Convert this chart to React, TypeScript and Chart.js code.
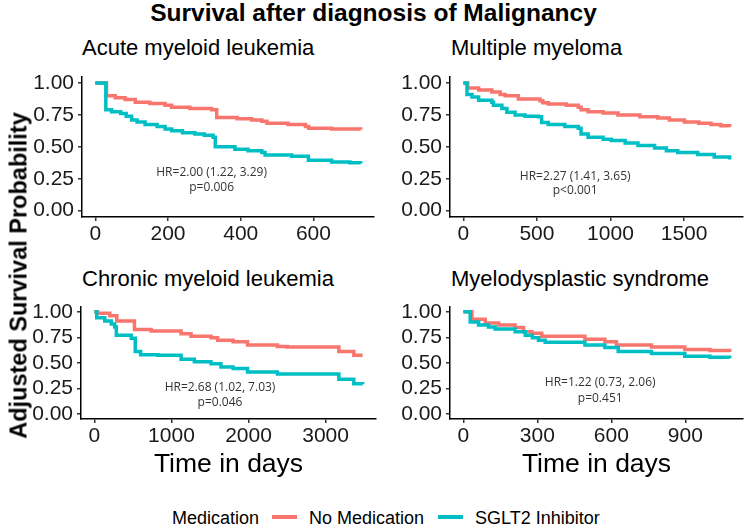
import React, { useEffect, useRef } from "react";
import { Chart, registerables } from "chart.js";

Chart.register(...registerables);

const NO_MED_COLOR = "#F8766D";
const SGLT2_COLOR = "#00BFC4";
const SANS = "'Liberation Sans', Arial, Helvetica, sans-serif";

// ---- Acute myeloid leukemia ----
const amlNoMedDays = [0, 31, 55, 82, 110, 150, 192, 210, 260, 320, 334, 390, 430, 458, 472, 530, 578, 587, 650, 730];
const amlNoMedSurv = [1.0, 0.9, 0.885, 0.87, 0.85, 0.84, 0.825, 0.81, 0.8, 0.79, 0.73, 0.72, 0.71, 0.7, 0.685, 0.675, 0.66, 0.645, 0.64, 0.635];
const amlSgltDays = [0, 29, 45, 70, 85, 100, 115, 137, 170, 192, 210, 240, 274, 300, 324, 330, 384, 420, 458, 467, 540, 586, 650, 700, 730];
const amlSgltSurv = [1.0, 0.79, 0.775, 0.76, 0.74, 0.71, 0.695, 0.675, 0.66, 0.64, 0.625, 0.61, 0.6, 0.59, 0.575, 0.5, 0.48, 0.47, 0.455, 0.435, 0.425, 0.395, 0.38, 0.375, 0.37];
const amlTicks = [0, 200, 400, 600];
const amlNote = ["HR=2.00 (1.22, 3.29)", "p=0.006"];

// ---- Multiple myeloma ----
const mmNoMedDays = [0, 30, 104, 194, 250, 284, 374, 521, 540, 577, 700, 781, 800, 848, 950, 1051, 1200, 1322, 1400, 1502, 1600, 1683, 1750, 1810];
const mmNoMedSurv = [1.0, 0.96, 0.945, 0.93, 0.91, 0.9, 0.875, 0.86, 0.845, 0.835, 0.825, 0.81, 0.79, 0.775, 0.765, 0.75, 0.735, 0.725, 0.71, 0.695, 0.685, 0.675, 0.665, 0.655];
const mmSgltDays = [0, 25, 59, 104, 194, 205, 262, 296, 352, 420, 510, 532, 577, 690, 781, 800, 848, 950, 1006, 1100, 1187, 1300, 1380, 1457, 1593, 1705, 1810];
const mmSgltSurv = [1.0, 0.91, 0.89, 0.865, 0.85, 0.825, 0.8, 0.77, 0.75, 0.74, 0.735, 0.69, 0.675, 0.66, 0.645, 0.6, 0.575, 0.56, 0.55, 0.53, 0.51, 0.49, 0.47, 0.455, 0.44, 0.42, 0.4];
const mmTicks = [0, 500, 1000, 1500];
const mmNote = ["HR=2.27 (1.41, 3.65)", "p<0.001"];

// ---- Chronic myeloid leukemia ----
const cmlNoMedDays = [0, 40, 200, 290, 520, 737, 1125, 1254, 1513, 1599, 1800, 1987, 2375, 2500, 3172, 3366, 3480];
const cmlNoMedSurv = [1.0, 0.985, 0.96, 0.91, 0.825, 0.81, 0.785, 0.76, 0.745, 0.72, 0.705, 0.675, 0.66, 0.655, 0.61, 0.575, 0.575];
const cmlSgltDays = [0, 30, 134, 220, 263, 284, 478, 530, 600, 823, 1125, 1297, 1513, 1642, 1800, 1987, 2375, 3172, 3366, 3480];
const cmlSgltSurv = [1.0, 0.94, 0.91, 0.88, 0.85, 0.77, 0.74, 0.61, 0.58, 0.575, 0.535, 0.51, 0.49, 0.46, 0.445, 0.41, 0.39, 0.34, 0.295, 0.29];
const cmlTicks = [0, 1000, 2000, 3000];
const cmlNote = ["HR=2.68 (1.02, 7.03)", "p=0.046"];

// ---- Myelodysplastic syndrome ----
const mdsNoMedDays = [0, 35, 89, 143, 210, 244, 278, 318, 493, 574, 621, 763, 898, 1000, 1080];
const mdsNoMedSurv = [1.0, 0.925, 0.89, 0.87, 0.845, 0.805, 0.79, 0.76, 0.73, 0.705, 0.675, 0.655, 0.63, 0.62, 0.605];
const mdsSgltDays = [0, 28, 62, 102, 129, 210, 251, 280, 305, 332, 493, 574, 628, 763, 898, 1000, 1080];
const mdsSgltSurv = [1.0, 0.9, 0.87, 0.85, 0.83, 0.805, 0.77, 0.745, 0.72, 0.7, 0.675, 0.65, 0.61, 0.59, 0.565, 0.555, 0.545];
const mdsTicks = [0, 300, 600, 900];
const mdsNote = ["HR=1.22 (0.73, 2.06)", "p=0.451"];

const survTicks = [0, 0.25, 0.5, 0.75, 1.0];

type PanelSpec = {
  left: number;
  top: number;
  width: number;
  height: number;
  padTop: number;
  padRight: number;
  yAxisWidth: number;
  xAxisHeight: number;
  noMedDays: number[];
  noMedSurv: number[];
  sgltDays: number[];
  sgltSurv: number[];
  xTicks: number[];
  note: string[];
  noteX: number;
  noteY: number[];
};

const toPoints = (days: number[], surv: number[]) => days.map((d, i) => ({ x: d, y: surv[i] }));

const axisLine = {
  grid: { display: true, drawOnChartArea: false, drawTicks: true, tickLength: 4, color: "#333333", lineWidth: 1.5 },
  border: { display: true, color: "#000000", width: 1.5 },
};

function SurvivalPanel({ spec }: { spec: PanelSpec }) {
  const ref = useRef<HTMLCanvasElement>(null);

  useEffect(() => {
    const lastDay = Math.max(spec.noMedDays[spec.noMedDays.length - 1], spec.sgltDays[spec.sgltDays.length - 1]);

    const notePlugin = {
      id: "hrNote",
      afterDatasetsDraw(chart: any) {
        const { ctx, scales } = chart;
        ctx.save();
        ctx.font = "12px 'Open Sans', 'Noto Sans', sans-serif";
        ctx.fillStyle = "#333333";
        ctx.textAlign = "center";
        ctx.textBaseline = "middle";
        spec.note.forEach((line, i) => {
          ctx.fillText(line, scales.x.getPixelForValue(spec.noteX), scales.y.getPixelForValue(spec.noteY[i]));
        });
        ctx.restore();
      },
    };

    const chart = new Chart(ref.current as HTMLCanvasElement, {
      type: "line",
      data: {
        datasets: [
          {
            label: "SGLT2 Inhibitor",
            data: toPoints(spec.sgltDays, spec.sgltSurv),
            borderColor: SGLT2_COLOR,
            backgroundColor: SGLT2_COLOR,
            borderWidth: 3.5,
            stepped: "before",
            pointRadius: 0,
            fill: false,
            order: 0,
          },
          {
            label: "No Medication",
            data: toPoints(spec.noMedDays, spec.noMedSurv),
            borderColor: NO_MED_COLOR,
            backgroundColor: NO_MED_COLOR,
            borderWidth: 3.5,
            stepped: "before",
            pointRadius: 0,
            fill: false,
            order: 1,
          },
        ],
      },
      options: {
        animation: false,
        responsive: false,
        devicePixelRatio: 1,
        layout: { padding: { top: spec.padTop, right: spec.padRight, left: 0, bottom: 0 } },
        plugins: { legend: { display: false }, tooltip: { enabled: false }, title: { display: false } },
        scales: {
          x: {
            type: "linear",
            min: -0.05 * lastDay,
            max: 1.05 * lastDay,
            afterBuildTicks: (s: any) => {
              s.ticks = spec.xTicks.map((v) => ({ value: v }));
            },
            afterFit: (s: any) => {
              s.height = spec.xAxisHeight;
            },
            ticks: {
              autoSkip: false,
              maxRotation: 0,
              padding: 1,
              color: "#1a1a1a",
              font: { family: SANS, size: 21 },
              callback: (v: any) => String(v),
            },
            ...axisLine,
          },
          y: {
            type: "linear",
            min: -0.05,
            max: 1.05,
            afterBuildTicks: (s: any) => {
              s.ticks = survTicks.map((v) => ({ value: v }));
            },
            afterFit: (s: any) => {
              s.width = spec.yAxisWidth;
            },
            ticks: {
              autoSkip: false,
              padding: 4,
              color: "#1a1a1a",
              font: { family: SANS, size: 21 },
              callback: (v: any) => Number(v).toFixed(2),
            },
            ...axisLine,
          },
        },
      } as any,
      plugins: [notePlugin],
    });
    return () => chart.destroy();
  }, [spec]);

  return (
    <canvas
      ref={ref}
      width={spec.width}
      height={spec.height}
      style={{ position: "absolute", left: spec.left, top: spec.top, width: spec.width, height: spec.height }}
    />
  );
}

const panels: PanelSpec[] = [
  {
    left: 0, top: 60, width: 380, height: 190, padTop: 10, padRight: 6, yAxisWidth: 82, xAxisHeight: 33,
    noMedDays: amlNoMedDays, noMedSurv: amlNoMedSurv, sgltDays: amlSgltDays, sgltSurv: amlSgltSurv,
    xTicks: amlTicks, note: amlNote, noteX: 320, noteY: [0.3, 0.18],
  },
  {
    left: 380, top: 60, width: 367, height: 190, padTop: 10, padRight: 4, yAxisWidth: 70, xAxisHeight: 33,
    noMedDays: mmNoMedDays, noMedSurv: mmNoMedSurv, sgltDays: mmSgltDays, sgltSurv: mmSgltSurv,
    xTicks: mmTicks, note: mmNote, noteX: 760, noteY: [0.265, 0.16],
  },
  {
    left: 0, top: 290, width: 380, height: 160, padTop: 11, padRight: 4, yAxisWidth: 81, xAxisHeight: 31,
    noMedDays: cmlNoMedDays, noMedSurv: cmlNoMedSurv, sgltDays: cmlSgltDays, sgltSurv: cmlSgltSurv,
    xTicks: cmlTicks, note: cmlNote, noteX: 1630, noteY: [0.256, 0.106],
  },
  {
    left: 380, top: 290, width: 367, height: 160, padTop: 11, padRight: 4, yAxisWidth: 70, xAxisHeight: 31,
    noMedDays: mdsNoMedDays, noMedSurv: mdsNoMedSurv, sgltDays: mdsSgltDays, sgltSurv: mdsSgltSurv,
    xTicks: mdsTicks, note: mdsNote, noteX: 555, noteY: [0.31, 0.153],
  },
];

type TextProps = {
  x: number;
  y: number;
  size: number;
  bold?: boolean;
  align?: "left" | "center";
  rotate?: boolean;
  children: React.ReactNode;
};

// Text placed by its visual centre line (y); x is either the left edge or the centre.
function Text({ x, y, size, bold, align = "left", rotate, children }: TextProps) {
  const h = Math.round(size * 1.4);
  const w = 600;
  const style: React.CSSProperties = {
    position: "absolute",
    top: y - h / 2,
    height: h,
    lineHeight: `${h}px`,
    fontSize: size,
    fontWeight: bold ? 700 : 400,
    fontFamily: SANS,
    color: "#000",
    whiteSpace: "nowrap",
  };
  if (align === "center" || rotate) {
    style.left = x - w / 2;
    style.width = w;
    style.textAlign = "center";
  } else {
    style.left = x;
  }
  if (rotate) style.transform = "rotate(-90deg)";
  return <div style={style}>{children}</div>;
}

const panelTitles = ["Acute myeloid leukemia", "Multiple myeloma", "Chronic myeloid leukemia", "Myelodysplastic syndrome"];

export default function App() {
  return (
    <div
      style={{
        position: "fixed",
        left: 0,
        top: 0,
        width: 747,
        height: 527,
        background: "#fff",
        overflow: "hidden",
      }}
    >
      <Text x={373.5} y={13} size={24.5} bold align="center">
        Survival after diagnosis of Malignancy
      </Text>

      <Text x={82} y={47.5} size={22}>{panelTitles[0]}</Text>
      <Text x={451} y={47.5} size={22}>{panelTitles[1]}</Text>
      <Text x={82} y={278} size={22}>{panelTitles[2]}</Text>
      <Text x={451} y={278} size={22}>{panelTitles[3]}</Text>

      {panels.map((p, i) => (
        <SurvivalPanel key={i} spec={p} />
      ))}

      <Text x={19} y={275} size={23.5} bold rotate>
        Adjusted Survival Probability
      </Text>

      <Text x={228.5} y={463} size={26.5} align="center">Time in days</Text>
      <Text x={596.5} y={463} size={26.5} align="center">Time in days</Text>

      {/* legend */}
      <Text x={172} y={518} size={18}>Medication</Text>
      <div style={{ position: "absolute", left: 272, top: 515, width: 25, height: 4, background: NO_MED_COLOR }} />
      <Text x={309} y={518} size={18}>No Medication</Text>
      <div style={{ position: "absolute", left: 438, top: 515, width: 25, height: 4, background: SGLT2_COLOR }} />
      <Text x={475} y={518} size={18}>SGLT2 Inhibitor</Text>
    </div>
  );
}
